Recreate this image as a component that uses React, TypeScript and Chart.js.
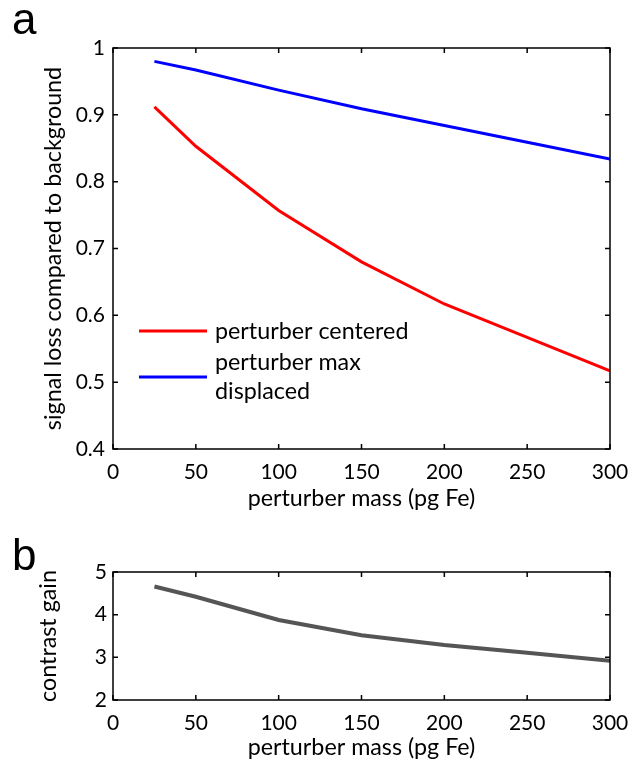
import { useEffect, useRef } from 'react';
import { Chart, registerables } from 'chart.js';

Chart.register(...registerables);

// ---- data ----
const massPoints = [25, 50, 100, 150, 200, 250, 300];
const centeredLoss = [0.912, 0.853, 0.757, 0.68, 0.617, 0.567, 0.517];
const displacedLoss = [0.98, 0.967, 0.937, 0.909, 0.884, 0.859, 0.834];
const contrastGain = [4.66, 4.42, 3.875, 3.52, 3.29, 3.11, 2.92];

const massTicks = [0, 50, 100, 150, 200, 250, 300];
const lossTicks = [0.4, 0.5, 0.6, 0.7, 0.8, 0.9, 1];
const gainTicks = [2, 3, 4, 5];

const seriesLabels = ['perturber centered', 'perturber max\ndisplaced'];
const xTitle = 'perturber mass (pg Fe)';
const yTitleTop = 'signal loss compared to background';
const yTitleBottom = 'contrast gain';

const FONT = 'Lato';
const TICK_SIZE = 21;
const TEXT_SIZE = 23.3;

const boxTicks = {
  id: 'boxTicks',
  afterDatasetsDraw(chart: any) {
    const { ctx, chartArea, scales } = chart;
    const { left, right, top, bottom } = chartArea;
    const len = 5;
    ctx.save();
    ctx.strokeStyle = '#000';
    ctx.lineWidth = 1.5;
    ctx.beginPath();
    scales.x.ticks.forEach((t: any) => {
      const px = scales.x.getPixelForValue(t.value);
      ctx.moveTo(px, bottom);
      ctx.lineTo(px, bottom - len);
      ctx.moveTo(px, top);
      ctx.lineTo(px, top + len);
    });
    scales.y.ticks.forEach((t: any) => {
      const py = scales.y.getPixelForValue(t.value);
      ctx.moveTo(left, py);
      ctx.lineTo(left + len, py);
      ctx.moveTo(right, py);
      ctx.lineTo(right - len, py);
    });
    ctx.stroke();
    ctx.strokeRect(left, top, right - left, bottom - top);
    ctx.restore();
  },
};

const lineLegend = {
  id: 'lineLegend',
  afterDatasetsDraw(chart: any, _args: any, opts: any) {
    if (!opts || !opts.rows) return;
    const { ctx, chartArea } = chart;
    ctx.save();
    ctx.font = `${opts.fontSize}px ${FONT}`;
    ctx.textBaseline = 'middle';
    ctx.textAlign = 'left';
    opts.rows.forEach((row: any) => {
      const ds = chart.data.datasets[row.datasetIndex];
      const y = chartArea.top + row.y;
      const x0 = chartArea.left + opts.x;
      ctx.strokeStyle = ds.borderColor;
      ctx.lineWidth = ds.borderWidth;
      ctx.beginPath();
      ctx.moveTo(x0, y);
      ctx.lineTo(x0 + opts.lineLength, y);
      ctx.stroke();
      const lines = String(ds.label).split('\n');
      const n = lines.length;
      ctx.fillStyle = '#000';
      lines.forEach((ln, i) => {
        const ty = y + (i - (n - 1) / 2) * opts.lineSpacing;
        ctx.fillText(ln, x0 + opts.lineLength + opts.gap, ty);
      });
    });
    ctx.restore();
  },
};

function makeOptions(p: {
  yMin: number;
  yMax: number;
  yTicks: number[];
  yTitle: string;
  yTitlePad: number;
  yTickPad: number;
  padTop: number;
  xScaleHeight: number;
  xTitlePad: number;
  legend?: any;
}) {
  return {
    responsive: false,
    animation: false as const,
    layout: { padding: { left: 0, right: 22, top: p.padTop, bottom: 0 } },
    plugins: {
      legend: { display: false },
      tooltip: { enabled: false },
      lineLegend: p.legend || {},
    },
    scales: {
      x: {
        type: 'linear' as const,
        min: 0,
        max: 300,
        afterBuildTicks: (s: any) => {
          s.ticks = massTicks.map((v) => ({ value: v }));
        },
        afterFit: (s: any) => {
          s.height = p.xScaleHeight;
          s.paddingLeft = 0;
          s.paddingRight = 0;
        },
        grid: { display: false, drawTicks: false },
        border: { display: false },
        ticks: {
          color: '#000',
          padding: 11,
          maxRotation: 0,
          font: { family: FONT, size: TICK_SIZE },
          callback: (v: any) => String(v),
        },
        title: {
          display: true,
          text: xTitle,
          color: '#000',
          font: { family: FONT, size: TEXT_SIZE },
          padding: { top: 0, bottom: p.xTitlePad },
        },
      },
      y: {
        type: 'linear' as const,
        min: p.yMin,
        max: p.yMax,
        afterBuildTicks: (s: any) => {
          s.ticks = p.yTicks.map((v) => ({ value: v }));
        },
        afterFit: (s: any) => {
          s.width = 113;
          s.paddingTop = 0;
          s.paddingBottom = 0;
        },
        grid: { display: false, drawTicks: false },
        border: { display: false },
        ticks: {
          color: '#000',
          padding: p.yTickPad,
          font: { family: FONT, size: TICK_SIZE },
          callback: (v: any) => String(+Number(v).toFixed(2)),
        },
        title: {
          display: true,
          text: p.yTitle,
          color: '#000',
          font: { family: FONT, size: TEXT_SIZE },
          padding: { top: p.yTitlePad, bottom: 0 },
        },
      },
    },
  };
}

export default function App() {
  const topRef = useRef<HTMLCanvasElement>(null);
  const bottomRef = useRef<HTMLCanvasElement>(null);

  useEffect(() => {
    const top = new Chart(topRef.current as HTMLCanvasElement, {
      type: 'line',
      data: {
        datasets: [
          {
            label: seriesLabels[0],
            data: massPoints.map((x, i) => ({ x, y: centeredLoss[i] })),
            borderColor: '#ff0000',
            borderWidth: 3,
            pointRadius: 0,
            tension: 0,
          },
          {
            label: seriesLabels[1],
            data: massPoints.map((x, i) => ({ x, y: displacedLoss[i] })),
            borderColor: '#0000ff',
            borderWidth: 3,
            pointRadius: 0,
            tension: 0,
          },
        ],
      },
      options: makeOptions({
        yMin: 0.4,
        yMax: 1,
        yTicks: lossTicks,
        yTitle: yTitleTop,
        yTitlePad: 39,
        yTickPad: 8,
        padTop: 48,
        xScaleHeight: 71,
        xTitlePad: 8,
        legend: {
          x: 26,
          lineLength: 68,
          gap: 8,
          fontSize: TEXT_SIZE,
          lineSpacing: 29,
          rows: [
            { datasetIndex: 0, y: 283 },
            { datasetIndex: 1, y: 329 },
          ],
        },
      }) as any,
      plugins: [boxTicks, lineLegend],
    });

    const bottom = new Chart(bottomRef.current as HTMLCanvasElement, {
      type: 'line',
      data: {
        datasets: [
          {
            label: 'contrast gain',
            data: massPoints.map((x, i) => ({ x, y: contrastGain[i] })),
            borderColor: '#555555',
            borderWidth: 4,
            pointRadius: 0,
            tension: 0,
          },
        ],
      },
      options: makeOptions({
        yMin: 2,
        yMax: 5,
        yTicks: gainTicks,
        yTitle: yTitleBottom,
        yTitlePad: 34,
        yTickPad: 6,
        padTop: 52,
        xScaleHeight: 67,
        xTitlePad: 6,
      }) as any,
      plugins: [boxTicks],
    });

    return () => {
      top.destroy();
      bottom.destroy();
    };
  }, []);

  const panelLabel: React.CSSProperties = {
    position: 'absolute',
    fontFamily: '"Liberation Sans", Arial, sans-serif',
    fontSize: 44,
    lineHeight: '44px',
    color: '#000',
    margin: 0,
  };

  return (
    <div style={{ position: 'absolute', left: 0, top: 0, width: 632, height: 767, background: '#fff' }}>
      <canvas
        ref={topRef}
        width={632}
        height={520}
        style={{ position: 'absolute', left: 0, top: 0, width: 632, height: 520 }}
      />
      <canvas
        ref={bottomRef}
        width={632}
        height={247}
        style={{ position: 'absolute', left: 0, top: 520, width: 632, height: 247 }}
      />
      <div style={{ ...panelLabel, left: 12, top: -3 }}>a</div>
      <div style={{ ...panelLabel, left: 12, top: 533 }}>b</div>
    </div>
  );
}
